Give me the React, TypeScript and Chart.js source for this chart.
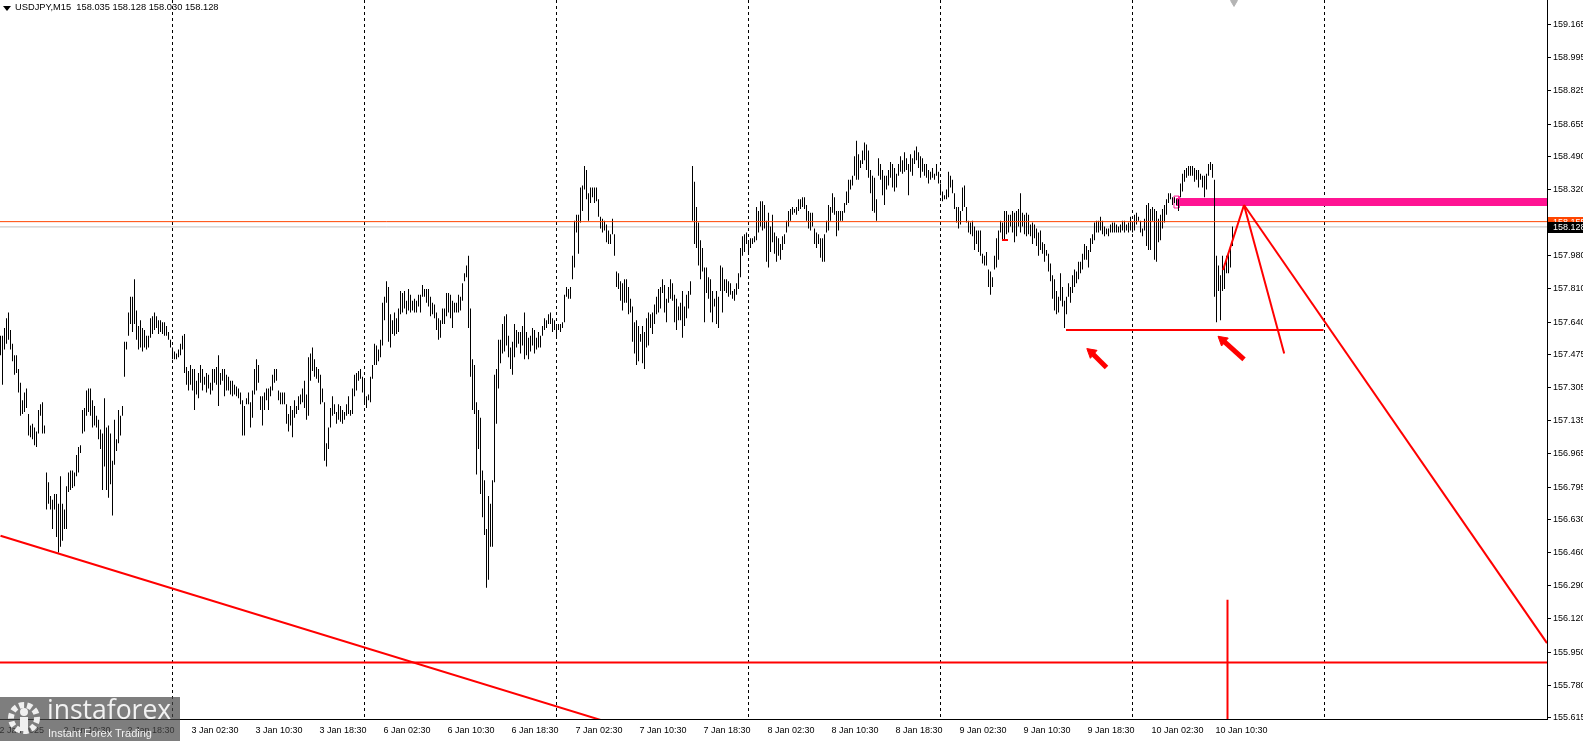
import React, { useEffect, useRef } from 'react';
import { Chart, registerables } from 'chart.js';

Chart.register(...registerables);

// ---------- DATA (USDJPY M15, bar index 0 = 2 Jan 02:30) ----------
const lows = [
157.47,157.32,157.50,157.53,157.55,157.50,157.44,157.37,157.38,157.28,
157.16,157.17,157.18,157.20,157.06,157.05,157.04,157.01,157.00,157.07,
157.16,157.07,157.07,156.68,156.71,156.68,156.58,156.68,156.54,156.46,
156.49,156.52,156.58,156.58,156.77,156.78,156.79,156.80,156.85,156.87,
156.97,157.07,157.08,157.16,157.18,157.16,157.10,157.11,157.10,157.04,
156.99,156.78,156.90,156.78,156.74,156.81,156.65,156.91,156.98,157.02,
157.06,157.16,157.36,157.50,157.57,157.63,157.59,157.63,157.55,157.50,
157.51,157.49,157.51,157.50,157.51,157.56,157.58,157.60,157.61,157.58,
157.59,157.58,157.57,157.57,157.55,157.51,157.45,157.45,157.45,157.46,
157.47,157.50,157.38,157.32,157.29,157.32,157.29,157.19,157.27,157.25,
157.33,157.29,157.32,157.28,157.30,157.27,157.29,157.33,157.32,157.21,
157.32,157.34,157.26,157.29,157.29,157.27,157.26,157.27,157.26,157.25,
157.22,157.06,157.06,157.22,157.22,
157.10,157.15,157.27,157.29,157.33,157.19,157.11,157.19,157.24,157.19,
157.26,157.29,157.33,157.34,157.24,157.22,157.22,157.22,157.12,157.08,
157.11,157.05,157.15,157.17,157.19,157.22,157.23,157.20,157.14,157.16,
157.34,157.39,157.36,157.35,157.33,157.22,157.23,156.93,156.90,156.99,
157.10,157.16,157.17,157.12,157.14,157.13,157.12,157.14,157.16,157.17,
157.16,157.17,157.26,157.29,157.34,157.35,157.28,157.22,157.20,157.24,
157.23,157.35,157.42,157.42,157.44,157.46,157.52,157.65,157.74,157.54,
157.51,157.58,157.57,157.58,157.59,157.68,157.69,157.71,157.68,157.70,
157.69,157.70,157.69,157.69,157.72,157.69,157.77,157.77,157.74,157.72,
157.67,157.68,157.66,157.60,157.55,157.56,157.63,157.63,157.67,157.69,
157.66,157.61,157.69,157.69,157.69,157.70,157.75,157.85,157.87,157.61,
157.36,157.19,157.17,156.86,156.99,156.76,156.64,156.55,156.28,156.32,
156.49,156.49,156.82,
157.12,157.30,157.43,157.48,157.49,157.52,157.46,157.40,157.37,157.46,
157.51,157.53,157.48,157.52,157.45,157.47,157.45,157.49,157.52,157.48,
157.50,157.51,157.51,157.57,157.60,157.61,157.63,157.63,157.59,157.60,
157.56,157.60,157.59,157.61,157.64,157.77,157.76,157.76,157.86,157.92,
158.10,157.99,158.15,158.21,158.32,158.27,158.16,158.25,158.28,158.25,
158.26,158.18,158.12,158.10,158.11,158.05,158.04,158.04,158.09,157.98,
157.82,157.81,157.75,157.70,157.74,157.74,157.68,157.69,157.54,157.48,
157.42,157.44,157.54,157.43,157.40,157.51,157.52,157.61,157.58,157.63,
157.68,157.69,157.71,157.79,157.69,157.64,157.74,157.76,157.75,157.64,
157.60,157.65,157.65,157.56,157.62,157.66,157.71,157.78,158.16,158.04,
158.02,157.93,157.86,157.90,157.64,157.79,157.76,157.69,157.64,157.72,
157.63,157.61,157.80,157.69,157.80,157.79,157.77,157.78,157.76,157.75,
157.78,157.81,
157.87,157.98,158.00,158.04,157.99,158.02,158.04,158.05,158.06,158.10,
158.13,158.11,158.12,157.95,157.92,158.00,158.05,157.99,157.95,157.98,
157.96,158.01,158.04,158.10,158.13,158.16,158.19,158.20,158.19,158.21,
158.22,158.23,158.22,158.16,158.12,158.11,158.13,158.04,158.02,158.04,
157.97,157.95,157.95,158.10,158.11,158.16,158.20,158.19,158.08,158.11,
158.16,158.16,158.20,158.24,158.25,158.32,158.34,158.39,158.37,158.37,
158.43,158.45,158.47,158.42,158.38,158.30,158.21,158.20,158.16,158.39,
158.37,158.29,158.24,158.32,158.34,158.38,158.33,158.31,158.33,158.39,
158.41,158.40,158.41,158.42,158.29,158.41,158.39,158.45,158.47,158.43,
158.38,158.41,158.39,158.38,158.35,158.37,158.38,158.37,158.39,158.35,
158.29,158.26,158.27,158.27,158.28,158.33,158.30,158.22,158.15,158.12,
158.14,158.21,158.23,158.15,158.10,158.09,158.08,158.01,158.04,158.00,
157.98,157.94,157.93,
157.93,157.82,157.78,157.82,157.91,157.92,157.96,158.10,158.06,158.06,
158.09,158.10,158.13,158.10,158.05,158.08,158.13,158.10,158.13,158.09,
158.08,158.09,158.08,158.04,158.07,158.03,157.98,158.01,157.99,157.95,
157.98,157.90,157.85,157.76,157.70,157.68,157.69,157.75,157.72,157.61,
157.68,157.77,157.74,157.79,157.82,157.84,157.86,157.89,157.91,157.96,
157.96,157.92,158.00,158.04,158.06,158.10,158.10,158.11,158.09,158.08,
158.09,158.08,158.10,158.10,158.10,158.10,158.10,158.10,158.11,158.10,
158.11,158.10,158.11,158.10,158.11,158.14,158.16,158.10,158.08,158.11,
158.03,158.01,158.01,158.16,157.96,157.95,158.05,158.06,158.12,158.15,
158.19,158.25,158.27,158.24,158.25,158.24,158.21,158.28,158.31,158.36,
158.38,158.39,158.39,158.39,158.36,158.37,158.33,158.37,158.33,158.28,
158.32,158.39,158.42,158.38,157.77,157.64,157.80,157.65,157.80,157.81,
157.89,157.89,157.92,158.03
];

const highs = [
157.57,157.57,157.61,157.66,157.69,157.60,157.53,157.47,157.47,157.40,
157.33,157.24,157.28,157.30,157.17,157.11,157.12,157.10,157.08,157.19,
157.22,157.23,157.11,156.87,156.82,156.75,156.73,156.76,156.76,156.71,
156.85,156.71,156.68,156.80,156.87,156.88,156.88,156.87,156.96,157.00,
157.01,157.19,157.20,157.29,157.30,157.30,157.24,157.21,157.16,157.14,
157.09,157.07,157.25,157.10,157.11,157.07,156.93,157.14,157.04,157.19,
157.16,157.21,157.54,157.54,157.69,157.77,157.77,157.86,157.70,157.62,
157.65,157.61,157.60,157.57,157.57,157.66,157.67,157.69,157.67,157.65,
157.65,157.64,157.64,157.62,157.59,157.55,157.51,157.49,157.48,157.50,
157.53,157.57,157.58,157.41,157.39,157.42,157.40,157.40,157.34,157.38,
157.42,157.40,157.36,157.38,157.37,157.33,157.40,157.40,157.41,157.47,
157.38,157.40,157.40,157.37,157.36,157.34,157.34,157.32,157.31,157.30,
157.28,157.24,157.21,157.25,157.28,
157.23,157.29,157.40,157.45,157.42,157.26,157.26,157.28,157.30,157.30,
157.31,157.37,157.40,157.40,157.29,157.28,157.28,157.28,157.22,157.17,
157.21,157.19,157.24,157.21,157.26,157.27,157.30,157.34,157.27,157.46,
157.48,157.51,157.45,157.41,157.40,157.37,157.30,157.23,157.02,157.10,
157.20,157.26,157.22,157.18,157.22,157.21,157.19,157.18,157.22,157.26,
157.19,157.30,157.37,157.38,157.39,157.40,157.36,157.34,157.26,157.27,
157.36,157.42,157.53,157.52,157.50,157.55,157.74,157.77,157.85,157.82,
157.68,157.65,157.69,157.66,157.71,157.80,157.79,157.80,157.75,157.81,
157.78,157.75,157.76,157.75,157.78,157.78,157.83,157.81,157.81,157.81,
157.77,157.74,157.73,157.69,157.66,157.65,157.71,157.71,157.79,157.79,
157.78,157.75,157.74,157.74,157.78,157.77,157.84,157.89,157.93,157.98,
157.71,157.45,157.42,157.23,157.19,157.15,156.88,156.83,156.58,156.75,
156.71,156.83,157.37,
157.40,157.55,157.55,157.63,157.67,157.68,157.57,157.51,157.54,157.63,
157.60,157.59,157.59,157.62,157.69,157.59,157.56,157.57,157.61,157.60,
157.56,157.59,157.57,157.62,157.66,157.65,157.68,157.69,157.66,157.65,
157.63,157.63,157.63,157.64,157.78,157.82,157.81,157.82,157.98,158.16,
158.19,158.19,158.33,158.34,158.44,158.42,158.30,158.33,158.33,158.33,
158.33,158.27,158.18,158.17,158.16,158.14,158.11,158.09,158.17,158.09,
157.90,157.89,157.85,157.84,157.86,157.86,157.82,157.76,157.72,157.64,
157.65,157.62,157.58,157.62,157.59,157.66,157.69,157.68,157.69,157.73,
157.77,157.81,157.82,157.86,157.83,157.76,157.82,157.86,157.84,157.78,
157.76,157.72,157.74,157.80,157.72,157.78,157.80,157.85,158.44,158.36,
158.23,158.15,158.06,158.02,157.92,157.92,157.87,157.86,157.80,157.76,
157.80,157.77,157.93,157.92,157.86,157.86,157.85,157.84,157.80,157.81,
157.84,157.89,
158.02,158.08,158.09,158.10,158.06,158.07,158.07,158.08,158.23,158.21,
158.26,158.26,158.24,158.16,158.20,158.13,158.19,158.10,158.08,158.07,
158.04,158.08,158.09,158.16,158.21,158.22,158.23,158.22,158.23,158.27,
158.27,158.28,158.28,158.24,158.21,158.20,158.20,158.12,158.10,158.09,
158.07,158.07,158.09,158.16,158.24,158.23,158.30,158.28,158.21,158.21,
158.21,158.21,158.25,158.31,158.37,158.37,158.39,158.49,158.57,158.50,
158.47,158.52,158.56,158.55,158.52,158.42,158.39,158.38,158.27,158.48,
158.45,158.42,158.39,158.39,158.42,158.46,158.45,158.43,158.40,158.45,
158.49,158.47,158.51,158.48,158.45,158.50,158.48,158.52,158.54,158.51,
158.49,158.48,158.45,158.45,158.42,158.41,158.43,158.40,158.45,158.41,
158.35,158.31,158.29,158.32,158.41,158.39,158.37,158.30,158.23,158.23,
158.21,158.33,158.34,158.23,158.16,158.15,158.16,158.13,158.11,158.11,
158.11,157.99,157.98,
158.00,157.91,157.90,157.87,157.98,158.07,158.11,158.16,158.15,158.21,
158.21,158.19,158.19,158.21,158.20,158.21,158.22,158.30,158.20,158.19,
158.20,158.19,158.14,158.15,158.14,158.12,158.10,158.11,158.05,158.04,
158.01,157.99,157.94,157.88,157.86,157.80,157.77,157.89,157.82,157.75,
157.77,157.84,157.82,157.88,157.91,157.90,157.95,157.95,157.99,158.04,
158.03,158.01,158.07,158.09,158.15,158.16,158.16,158.18,158.16,158.13,
158.12,158.12,158.14,158.15,158.15,158.14,158.13,158.14,158.16,158.16,
158.14,158.15,158.18,158.14,158.19,158.20,158.18,158.16,158.12,158.17,
158.24,158.25,158.22,158.23,158.22,158.21,158.17,158.19,158.22,158.24,
158.27,158.30,158.30,158.28,158.28,158.27,158.27,158.35,158.40,158.42,
158.43,158.44,158.44,158.44,158.43,158.42,158.42,158.40,158.39,158.39,
158.40,158.45,158.46,158.45,158.37,157.98,157.93,157.88,157.98,157.94,
157.98,158.00,158.03,158.13
];

// x-axis time labels (every 32 bars) and day separators (dashed grid)
const xLabelIdx = [0,32,64,96,128,160,192,224,256,288,320,352,384,416,448,480,512,544,576,608];
const xLabels = ['2 Jan 2025','2 Jan 10:30','2 Jan 18:30','3 Jan 02:30','3 Jan 10:30','3 Jan 18:30',
  '6 Jan 02:30','6 Jan 10:30','6 Jan 18:30','7 Jan 02:30','7 Jan 10:30','7 Jan 18:30',
  '8 Jan 02:30','8 Jan 10:30','8 Jan 18:30','9 Jan 02:30','9 Jan 10:30','9 Jan 18:30',
  '10 Jan 02:30','10 Jan 10:30'];
const daySeparators = [86,182,278,374,470,566,662];

// y-axis tick labels
const yTickLabels = ['155.615','155.780','155.950','156.120','156.290','156.460','156.630','156.795',
  '156.965','157.135','157.305','157.475','157.640','157.810','157.980','158.150','158.320',
  '158.490','158.655','158.825','158.995','159.165'];

// chart objects (time index, price)
const redLines = [
  [0, 156.546, 302, 155.596],
  [-2, 155.896, 780, 155.896],
  [532.75, 157.600, 661.5, 157.600],
  [621.75, 158.240, 773.25, 155.996],
  [621.75, 158.240, 641.85, 157.480],
  [611.25, 157.907, 621.75, 158.240],
  [613.5, 156.218, 613.5, 155.5],
  [500.75, 158.061, 503.75, 158.061],
];
// arrows: tip index, tip price, tail index, tail price
const arrows = [
  [545.45, 157.485, 553.0, 157.408],
  [611.05, 157.548, 621.75, 157.449],
];
const pinkZone = [587.75, 780, 158.256];
const pinkAnchor = [586.75, 589.25, 158.286, 158.225];
const hLineOrange = 158.155;
const bidPrice = 158.128;
const shiftMarker = [616.75, 159.278];
const headerText = 'USDJPY,M15  158.035 158.128 158.030 158.128';

const FONT = "'Liberation Sans', Arial, sans-serif";

const priceTagPlugin = {
  id: 'priceTags',
  afterDraw(chart: any) {
    const { ctx, scales } = chart;
    const y = scales.y;
    const tags = [
      { p: hLineOrange, bg: '#FF4500', t: hLineOrange.toFixed(3) },
      { p: bidPrice, bg: '#000000', t: bidPrice.toFixed(3) },
    ];
    ctx.save();
    ctx.font = `9px ${FONT}`;
    ctx.textBaseline = 'middle';
    ctx.textAlign = 'left';
    for (const tg of tags) {
      const py = y.getPixelForValue(tg.p);
      ctx.fillStyle = tg.bg;
      ctx.fillRect(y.left + 1, Math.round(py) - 5, 40, 11);
      ctx.fillStyle = '#FFFFFF';
      ctx.fillText(tg.t, y.left + 6, Math.round(py) + 0.5);
    }
    ctx.restore();
  },
};

export default function App() {
  const ref = useRef<HTMLCanvasElement | null>(null);

  useEffect(() => {
    document.body.style.margin = '0';
    const canvas = ref.current!;
    const labelMap = new Map<number, string>();
    xLabelIdx.forEach((v, i) => labelMap.set(v, xLabels[i]));
    const sepSet = new Set<number>(daySeparators);
    const allX = [...xLabelIdx, ...daySeparators].sort((a, b) => a - b);

    const lineDs = (pts: number[][], color: string, width: number, order: number) => ({
      type: 'line',
      data: pts.map(([x, y]) => ({ x, y })),
      borderColor: color,
      backgroundColor: color,
      borderWidth: width,
      pointRadius: 0,
      fill: false,
      tension: 0,
      clip: 0,
      order,
      borderCapStyle: 'butt',
    });

    const datasets: any[] = [];
    redLines.forEach(([x1, y1, x2, y2]) => datasets.push(lineDs([[x1, y1], [x2, y2]], '#FF0000', 2, 0)));
    arrows.forEach(([tx, ty, sx, sy]) => {
      datasets.push(lineDs([[sx, sy], [tx, ty]], '#FF0000', 5, 0));
      datasets.push({
        type: 'line', data: [{ x: tx, y: ty }], showLine: false,
        pointStyle: 'triangle', pointRadius: 6, pointRotation: -50,
        pointBackgroundColor: '#FF0000', pointBorderColor: '#FF0000', pointBorderWidth: 1,
        clip: 0, order: 0,
      });
    });
    datasets.push({
      type: 'line', data: [{ x: shiftMarker[0], y: shiftMarker[1] }], showLine: false,
      pointStyle: 'triangle', pointRadius: 4, pointRotation: 180,
      pointBackgroundColor: '#B4B4B4', pointBorderColor: '#B4B4B4', pointBorderWidth: 1,
      clip: 0, order: 0,
    });
    datasets.push(lineDs([[-2, hLineOrange], [780, hLineOrange]], '#FF4500', 1, 0));
    datasets.push(lineDs([[-2, bidPrice], [780, bidPrice]], '#C0C0C0', 1, 3));
    datasets.push(lineDs([[pinkZone[0], pinkZone[2]], [pinkZone[1], pinkZone[2]]], '#FF1493', 8, 2));
    datasets.push(lineDs([
      [pinkAnchor[0], pinkAnchor[2]], [pinkAnchor[1], pinkAnchor[2]],
      [pinkAnchor[1], pinkAnchor[3]], [pinkAnchor[0], pinkAnchor[3]], [pinkAnchor[0], pinkAnchor[2]],
    ], '#FF1493', 1, 2));
    datasets.push({
      type: 'bar',
      data: lows.map((l, i) => ({ x: i, y: [l, highs[i]] })),
      backgroundColor: '#000000',
      borderWidth: 0,
      barThickness: 1,
      inflateAmount: 0,
      minBarLength: 1,
      grouped: false,
      order: 1,
    });

    const chart = new Chart(canvas, {
      type: 'bar',
      data: { datasets },
      plugins: [priceTagPlugin],
      options: {
        animation: false,
        responsive: false,
        maintainAspectRatio: false,
        events: [],
        layout: { padding: 0, autoPadding: false },
        plugins: { legend: { display: false }, tooltip: { enabled: false }, title: { display: false } },
        scales: {
          x: {
            type: 'linear',
            position: 'bottom',
            offset: false,
            min: -0.25,
            max: 773.25,
            afterBuildTicks: (s: any) => { s.ticks = allX.map((v) => ({ value: v })); },
            afterFit: (s: any) => { s.height = 22; s.paddingLeft = 0; s.paddingRight = 0; s.paddingTop = 0; s.paddingBottom = 0; },
            ticks: {
              autoSkip: false, maxRotation: 0, minRotation: 0, align: 'start', padding: 6, labelOffset: -1,
              color: '#000000', font: { family: FONT, size: 9 },
              callback: (v: any) => labelMap.get(Number(v)) ?? '',
            },
            grid: {
              offset: false,
              drawTicks: false,
              lineWidth: 1,
              color: (c: any) => (c.tick && sepSet.has(c.tick.value) ? '#000000' : 'rgba(0,0,0,0)'),
            },
            border: { display: true, color: '#000000', width: 1, dash: [3, 3] },
          },
          y: {
            type: 'linear',
            position: 'right',
            min: 155.607,
            max: 159.2905,
            beginAtZero: false,
            afterBuildTicks: (s: any) => { s.ticks = yTickLabels.map((t) => ({ value: parseFloat(t) })); },
            afterFit: (s: any) => { s.width = 36; s.paddingTop = 0; s.paddingBottom = 0; s.paddingLeft = 0; s.paddingRight = 0; },
            ticks: {
              padding: 2, color: '#000000', font: { family: FONT, size: 9 },
              callback: (v: any) => Number(v).toFixed(3),
            },
            grid: { drawOnChartArea: false, drawTicks: true, tickLength: 4, color: '#000000' },
            border: { display: true, color: '#000000', width: 1 },
          },
        },
      } as any,
    } as any);
    return () => chart.destroy();
  }, []);

  return (
    <div style={{ position: 'fixed', left: 0, top: 0, width: 1583, height: 741, background: '#FFFFFF', overflow: 'hidden' }}>
      <canvas ref={ref} width={1583} height={741} style={{ display: 'block', width: 1583, height: 741 }} />
      <div style={{ position: 'absolute', left: 3, top: 6, width: 0, height: 0,
        borderLeft: '4px solid transparent', borderRight: '4px solid transparent', borderTop: '5px solid #000' }} />
      <div style={{ position: 'absolute', left: 15, top: 2, font: `9.3px ${FONT}`, color: '#000', whiteSpace: 'pre' }}>{headerText}</div>
      <div style={{ position: 'absolute', left: 0, top: 697, width: 180, height: 44, background: 'rgba(71,71,71,0.7)' }}>
        <svg width="40" height="40" style={{ position: 'absolute', left: 4, top: 1 }} viewBox="0 0 40 40">
          <circle cx="20" cy="20" r="13" fill="none" stroke="#F0F0F0" strokeWidth="6" strokeDasharray="5 3" />
          <circle cx="20" cy="14" r="4" fill="#F0F0F0" />
          <rect x="16" y="19" width="8" height="14" fill="#F0F0F0" />
        </svg>
        <div style={{ position: 'absolute', left: 47, top: -6, font: `26.5px 'Open Sans', sans-serif`, color: '#F2F2F2', whiteSpace: 'nowrap' }}>instaforex</div>
        <div style={{ position: 'absolute', left: 48, top: 30, font: `11px 'Liberation Sans', sans-serif`, color: '#F2F2F2', whiteSpace: 'nowrap' }}>Instant Forex Trading</div>
      </div>
    </div>
  );
}
